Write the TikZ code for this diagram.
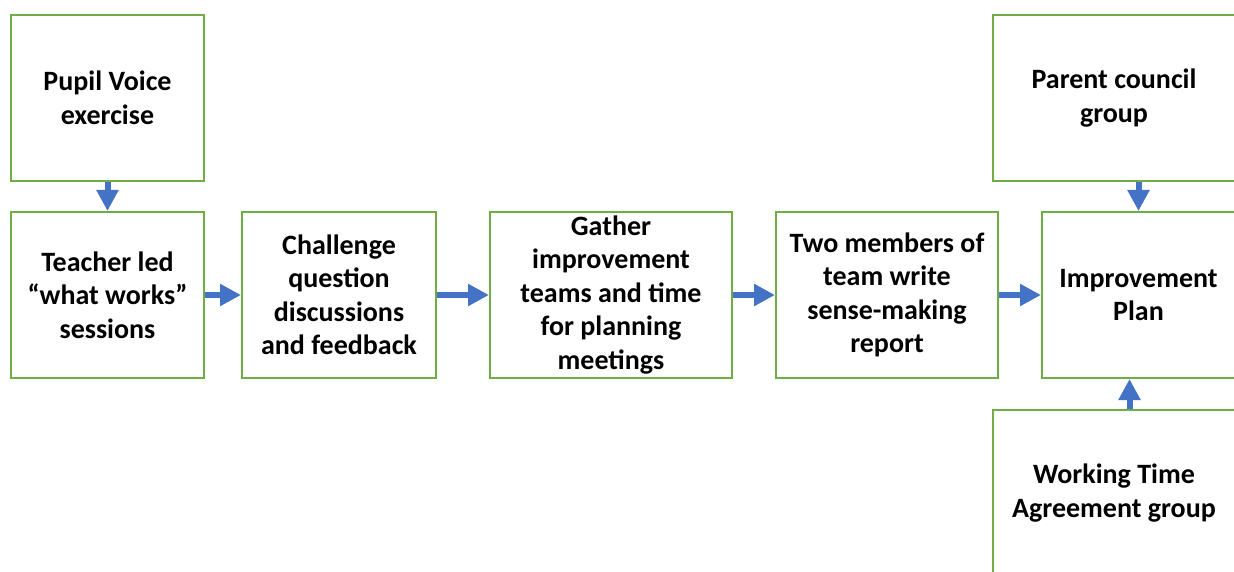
\documentclass[tikz,border=0pt]{standalone}
\usepackage{fontspec}
\setmainfont{Carlito}
\usetikzlibrary{arrows.meta,calc}
\definecolor{boxgreen}{HTML}{70AD47}
\definecolor{arrowblue}{HTML}{4472C4}

\begin{document}
\begin{tikzpicture}[x=1pt, y=-1pt,
  box/.style={draw=boxgreen, line width=2pt, fill=white, align=center, inner sep=0pt,
    minimum height=166pt, font=\fontsize{28}{33.5}\selectfont\bfseries},
  flow/.style={draw=arrowblue, line width=6pt, -{Triangle[length=21pt,width=21pt]}}]
\clip (0,0) rectangle (1234,572);
\fill[white] (0,0) rectangle (1234,572);
\node[box, minimum width=193pt] (1) at (107.5, 98) {Pupil Voice\\exercise};
\node[box, minimum width=193pt] (2) at (107.5, 295) {Teacher led\\“what works”\\sessions};
\node[box, minimum width=194pt] (3) at (339, 295) {Challenge\\question\\discussions\\and feedback};
\node[box, minimum width=242pt] (4) at (611, 295) {Gather\\improvement\\teams and time\\for planning\\meetings};
\node[box, minimum width=222pt] (5) at (887, 295) {Two members of\\team write\\sense-making\\report};
\node[box, minimum width=193pt] (6) at (1138.5, 295) {Improvement\\Plan};
\node[box, minimum width=242pt] (7) at (1114, 98) {Parent council\\group};
\node[box, minimum width=242pt] (8) at (1114, 493) {Working Time\\Agreement group};
\draw[flow] (1) -- (2);
\draw[flow] (2) -- (3);
\draw[flow] (3) -- (4);
\draw[flow] (4) -- (5);
\draw[flow] (5) -- (6);
\draw[flow] (7.south -| 6) -- (6.north);
%%\draw[flow] (8) -- (6);
\draw[flow] ($(8.north -| 6)+(-9,0)$) -- ($(6.south)+(-9,0)$);
\end{tikzpicture}
\end{document}
